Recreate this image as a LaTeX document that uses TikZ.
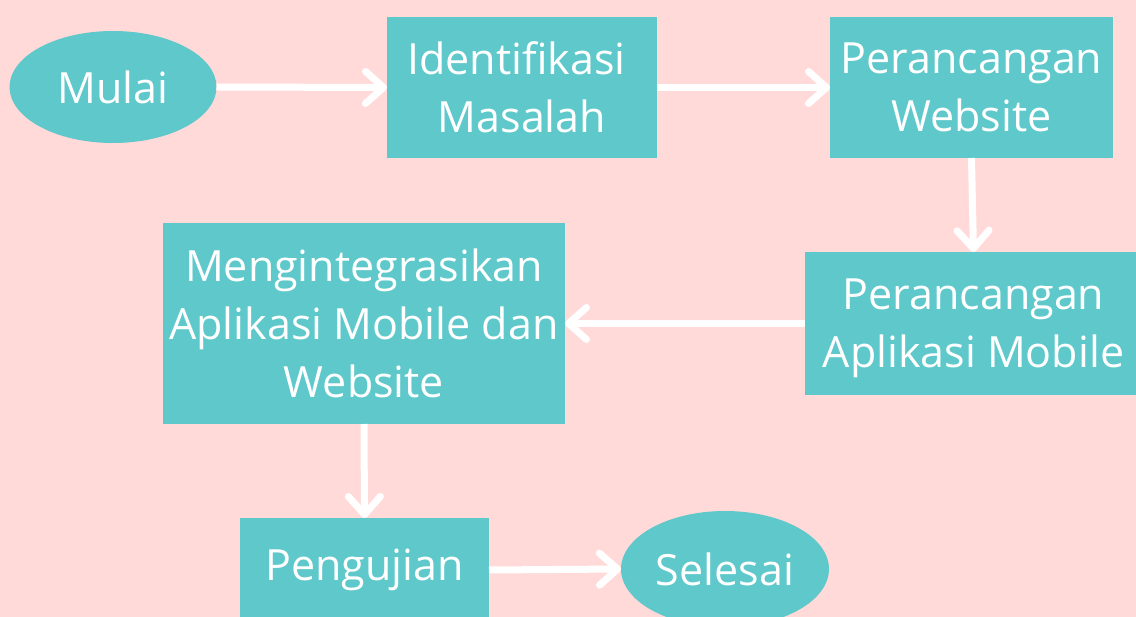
\documentclass[tikz,border=0pt]{standalone}
\usepackage{fontspec}
\setmainfont{Open Sans}
\usetikzlibrary{shapes.geometric,arrows.meta}
\definecolor{bgpink}{HTML}{FFDAD9}
\definecolor{teal}{HTML}{5EC8CB}
\tikzset{
  textbase/.style={text=white, inner sep=0pt, outer sep=0pt, align=center,
    font=\fontsize{43}{58}\selectfont},
  shapebase/.style={textbase, fill=teal},
  box/.style={shapebase, rectangle},
  ell/.style={shapebase, ellipse},
  conn/.style={draw=white, line width=7pt, line cap=butt,
    -{Straight Barb[round, length=18pt, width=32pt]}}
}
\begin{document}
\begin{tikzpicture}[x=1pt, y=-1pt]
\fill[bgpink] (0,0) rectangle (1136,617);
\useasboundingbox (0,0) rectangle (1136,617);
\node[ell, minimum width=207pt, minimum height=112pt] (mulai) at (113,87) {Mulai};
\node[box, minimum width=270pt, minimum height=141pt] (idm) at (522,87.5) {Identifikasi\phantom{\ }\\Masalah};
\node[box, minimum width=283pt, minimum height=141pt] (pw) at (971.5,87.5) {Perancangan\\Website};
\node[box, minimum width=331pt, minimum height=143pt] (pam) at (970.5,323.5) {};
\node[textbase] (pamtext) at ([xshift=3pt,yshift=-5pt]pam.center) {Perancangan\\Aplikasi Mobile};
\node[box, minimum width=402pt, minimum height=201pt] (meng) at (364,323.5) {Mengintegrasikan\\Aplikasi Mobile dan\\Website};
\node[box, minimum width=249pt, minimum height=104pt] (peng) at (364.5,570) {Pengujian};
\node[ell, minimum width=208pt, minimum height=116pt] (sel) at (725,569) {Selesai};
\draw[conn] (mulai.east) -- (idm.west);
\draw[conn] (idm.east) -- (pw.west);
\draw[conn] (pw.south) -- ([xshift=3pt]pam.north);
\draw[conn] (pam.west) -- (meng.east);
\draw[conn] (meng.south) -- (peng.north);
\draw[conn] (peng.east) -- (sel.west);
\end{tikzpicture}
\end{document}
